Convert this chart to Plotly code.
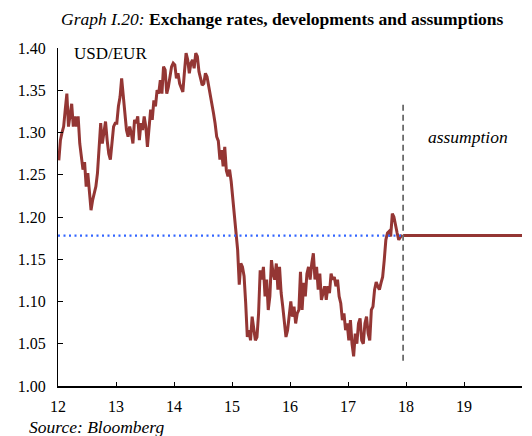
import plotly.graph_objects as go

# ---- Data ----
# USD/EUR, roughly three readings per month (start / middle / end of month)
Y2012 = [1.267, 1.291, 1.300, 1.307, 1.327, 1.346, 1.307, 1.319, 1.334, 1.307, 1.319, 1.307,
         1.319, 1.287, 1.271, 1.256, 1.265, 1.236, 1.252, 1.228, 1.208, 1.220, 1.228, 1.236,
         1.252, 1.283, 1.311, 1.287, 1.299, 1.313, 1.291, 1.275, 1.268, 1.287, 1.307, 1.311]
Y2013 = [1.311, 1.331, 1.342, 1.364, 1.342, 1.322, 1.303, 1.295, 1.307, 1.299, 1.287, 1.315,
         1.311, 1.319, 1.291, 1.311, 1.303, 1.319, 1.307, 1.283, 1.311, 1.327, 1.315, 1.338,
         1.331, 1.350, 1.346, 1.362, 1.346, 1.378, 1.374, 1.346, 1.354, 1.366, 1.378, 1.382]
Y2014 = [1.380, 1.364, 1.370, 1.358, 1.352, 1.348, 1.372, 1.394, 1.386, 1.370, 1.382, 1.386,
         1.376, 1.394, 1.390, 1.372, 1.364, 1.356, 1.358, 1.370, 1.366, 1.356, 1.344, 1.335,
         1.323, 1.311, 1.295, 1.290, 1.268, 1.279, 1.260, 1.283, 1.255, 1.248, 1.256, 1.242]
Y2015 = [1.220, 1.200, 1.181, 1.161, 1.120, 1.145, 1.141, 1.130, 1.098, 1.058, 1.066, 1.054,
         1.082, 1.066, 1.054, 1.058, 1.086, 1.137, 1.126, 1.141, 1.106, 1.126, 1.090, 1.106,
         1.149, 1.133, 1.126, 1.145, 1.114, 1.141, 1.110, 1.094, 1.074, 1.058, 1.066, 1.086]
Y2016 = [1.100, 1.082, 1.094, 1.074, 1.086, 1.090, 1.135, 1.090, 1.122, 1.106, 1.133, 1.141,
         1.126, 1.145, 1.157, 1.126, 1.141, 1.114, 1.133, 1.102, 1.110, 1.118, 1.102, 1.118,
         1.110, 1.133, 1.126, 1.129, 1.118, 1.126, 1.106, 1.098, 1.078, 1.086, 1.066, 1.074]
Y2017 = [1.054, 1.078, 1.050, 1.035, 1.062, 1.050, 1.074, 1.080, 1.054, 1.050, 1.074, 1.082,
         1.062, 1.054, 1.090, 1.094, 1.114, 1.123, 1.118, 1.114, 1.122, 1.129, 1.149, 1.173,
         1.181, 1.183, 1.177, 1.204, 1.200, 1.189, 1.181, 1.173, 1.177, 1.179]
YEARS = [12, 13, 14, 15, 16, 17]
READINGS_PER_YEAR = 36

ASSUMED_RATE = 1.178
ASSUMPTION_START = 17.95
ASSUMPTION_END = 20.0
MARKER_LINE_RANGE = [1.03, 1.335]

X_TICKS = [12, 13, 14, 15, 16, 17, 18, 19]
X_TICK_LABELS = ["12", "13", "14", "15", "16", "17", "18", "19"]
Y_TICKS = [1.00, 1.05, 1.10, 1.15, 1.20, 1.25, 1.30, 1.35, 1.40]
Y_TICK_LABELS = ["1.00", "1.05", "1.10", "1.15", "1.20", "1.25", "1.30", "1.35", "1.40"]

# ---- Build series ----
hist_x, hist_y = [], []
for year, vals in zip(YEARS, [Y2012, Y2013, Y2014, Y2015, Y2016, Y2017]):
    for i, v in enumerate(vals):
        hist_x.append(year + (i + 0.5) / READINGS_PER_YEAR)
        hist_y.append(v)

RED = "#943634"
FONT = "Liberation Serif, Times New Roman, serif"

fig = go.Figure()

fig.add_trace(go.Scatter(x=hist_x, y=hist_y, mode="lines",
                         line=dict(color=RED, width=3), hoverinfo="skip"))
fig.add_trace(go.Scatter(x=[ASSUMPTION_START, ASSUMPTION_END], y=[ASSUMED_RATE, ASSUMED_RATE],
                         mode="lines", line=dict(color=RED, width=3), hoverinfo="skip"))
fig.add_trace(go.Scatter(x=[YEARS[0], ASSUMPTION_START], y=[ASSUMED_RATE, ASSUMED_RATE],
                         mode="lines", line=dict(color="#3366ff", width=2.2, dash="2px,3.5px"),
                         hoverinfo="skip"))
fig.add_trace(go.Scatter(x=[ASSUMPTION_START, ASSUMPTION_START], y=MARKER_LINE_RANGE,
                         mode="lines", line=dict(color="#6b6b6b", width=1.8, dash="6px,4px"),
                         hoverinfo="skip"))

# The page body adds an 8px offset, so the figure is sized 8px smaller on each side.
fig.update_layout(
    width=524, height=428,
    margin=dict(l=46, r=10, t=40, b=50),
    paper_bgcolor="white", plot_bgcolor="white",
    showlegend=False,
    font=dict(family=FONT, size=16, color="black"),
    xaxis=dict(range=[12, 20], tickvals=X_TICKS, ticktext=X_TICK_LABELS,
               showgrid=False, zeroline=False, showline=True, linecolor="black", linewidth=2,
               ticks="inside", ticklen=4, tickcolor="black", tickwidth=1,
               ticklabelstandoff=5, tickfont=dict(family=FONT, size=16)),
    yaxis=dict(range=[1.0, 1.4], tickvals=Y_TICKS, ticktext=Y_TICK_LABELS,
               showgrid=False, zeroline=False, showline=True, linecolor="black", linewidth=1,
               ticks="inside", ticklen=5, tickcolor="black", tickwidth=1,
               ticklabelstandoff=8, tickfont=dict(family=FONT, size=16)),
    annotations=[
        dict(text="<i>Graph I.20:</i> <b>Exchange rates, developments and assumptions</b>",
             xref="paper", yref="paper", x=0.483, y=1.087, xanchor="center", yanchor="middle",
             showarrow=False, font=dict(family=FONT, size=17.5)),
        dict(text="USD/EUR", xref="paper", yref="paper", x=0.03, y=0.985,
             xanchor="left", yanchor="middle", showarrow=False, font=dict(family=FONT, size=17)),
        dict(text="<i>assumption</i>", xref="paper", yref="paper", x=0.8835, y=0.737,
             xanchor="center", yanchor="middle", showarrow=False, font=dict(family=FONT, size=17.5)),
        dict(text="<i>Source: Bloomberg</i>", xref="paper", yref="paper", x=-0.067, y=-0.122,
             xanchor="left", yanchor="middle", showarrow=False, font=dict(family=FONT, size=17.5)),
    ],
)

fig.write_html("out.html")
